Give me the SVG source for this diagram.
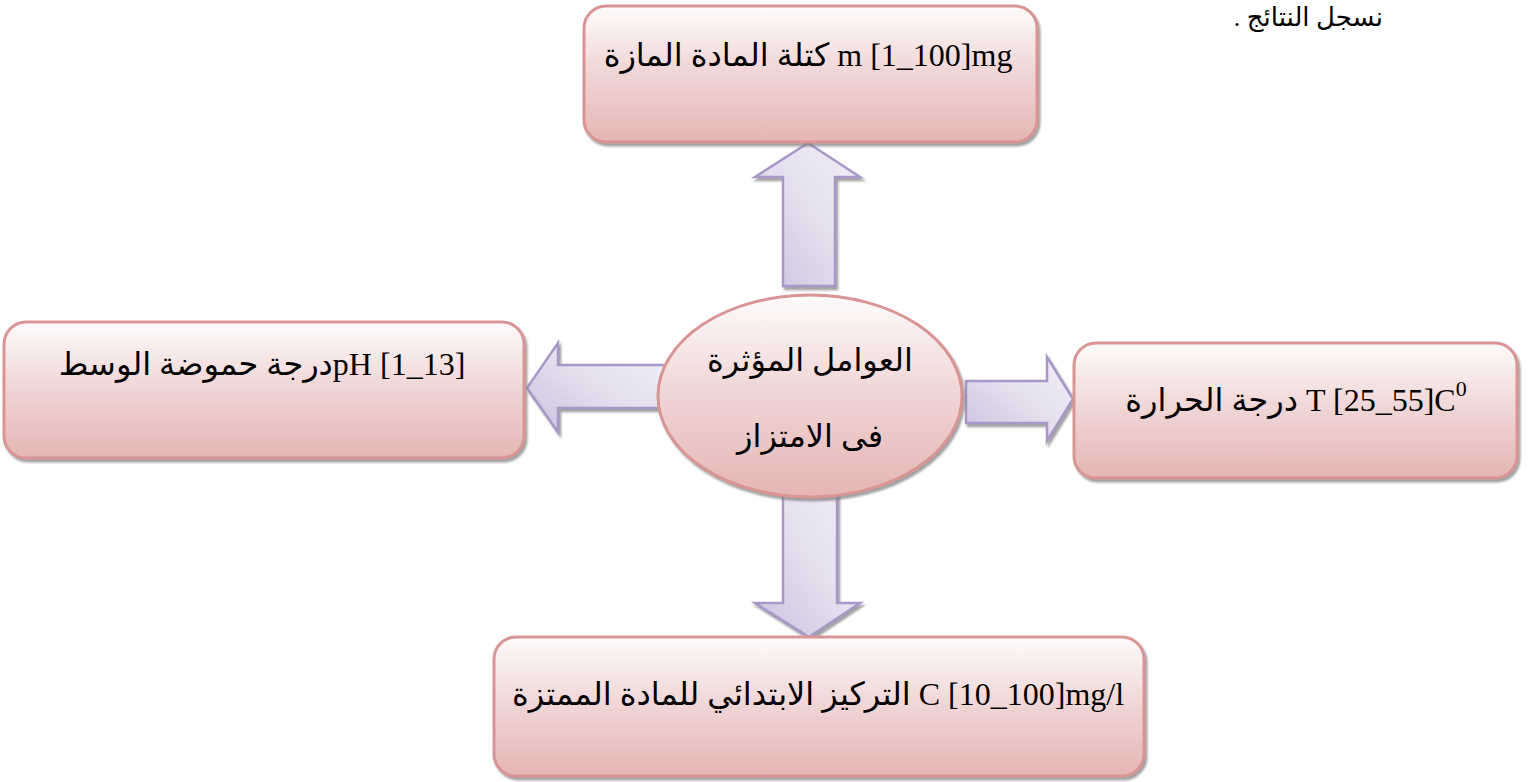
<svg xmlns="http://www.w3.org/2000/svg" width="1530" height="782" viewBox="0 0 1530 782">
<defs>
<linearGradient id="pink" x1="0" y1="0" x2="0" y2="1">
<stop offset="0" stop-color="#fefbfb"/>
<stop offset="0.45" stop-color="#f1d8d8"/>
<stop offset="1" stop-color="#e5b5b4"/>
</linearGradient>
<linearGradient id="lav" x1="0" y1="1" x2="1" y2="0">
<stop offset="0" stop-color="#cbc1de"/>
<stop offset="0.55" stop-color="#e6e1f0"/>
<stop offset="1" stop-color="#f1eef7"/>
</linearGradient>
<filter id="sh" x="-10%" y="-10%" width="125%" height="130%">
<feDropShadow dx="2" dy="3" stdDeviation="1.2" flood-color="#7a7a7a" flood-opacity="0.7"/>
</filter>
</defs>
<style>
.box{fill:url(#pink);stroke:#d99594;stroke-width:3;filter:url(#sh)}
.arr{fill:url(#lav);stroke:#a898c9;stroke-width:2.5;stroke-linejoin:miter;filter:url(#sh)}
.t{font-family:"Liberation Serif","DejaVu Sans",serif;font-size:32px;fill:#000;text-anchor:middle}
.top{font-family:"Liberation Serif","DejaVu Sans",serif;font-size:26px;fill:#000;text-anchor:start}
</style>
<text class="top" x="1383" y="26" direction="rtl">نسجل النتائج .</text>
<g id="connectors">
<path class="arr" d="M808,143 L860,177 L835,177 L835,286 L783,286 L783,177 L755,177 Z"/>
<path class="arr" d="M783,488 L837,488 L837,603 L860,603 L809,637 L755,603 L783,603 Z"/>
<path class="arr" d="M527,388 L558,343 L558,365 L668,365 L668,408 L558,408 L558,432 Z"/>
<path class="arr" d="M966,381 L1047,381 L1047,357 L1073,399 L1047,441 L1047,423 L966,423 Z"/>
</g>
<g id="center">
<ellipse class="box" cx="810" cy="396" rx="152" ry="101"/>
<text class="t" x="810" y="371">العوامل المؤثرة</text>
<text class="t" x="810" y="447">فى الامتزاز</text>
</g>
<g id="mass">
<rect class="box" x="584" y="6" width="453" height="136" rx="22"/>
<text class="t" x="808" y="66">كتلة المادة المازة m [1_100]mg</text>
</g>
<g id="ph">
<rect class="box" x="4" y="322" width="520" height="136" rx="22"/>
<text class="t" x="262" y="375">درجة حموضة الوسطpH [1_13]</text>
</g>
<g id="temp">
<rect class="box" x="1074" y="343" width="443" height="135" rx="22"/>
<text class="t" x="1296" y="411" font-size="34">درجة الحرارة T [25_55]C<tspan font-size="22" dy="-15">0</tspan></text>
</g>
<g id="conc">
<rect class="box" x="494" y="637" width="650" height="139" rx="22"/>
<text class="t" x="818" y="705">التركيز الابتدائي للمادة الممتزة C [10_100]mg/l</text>
</g>
</svg>
